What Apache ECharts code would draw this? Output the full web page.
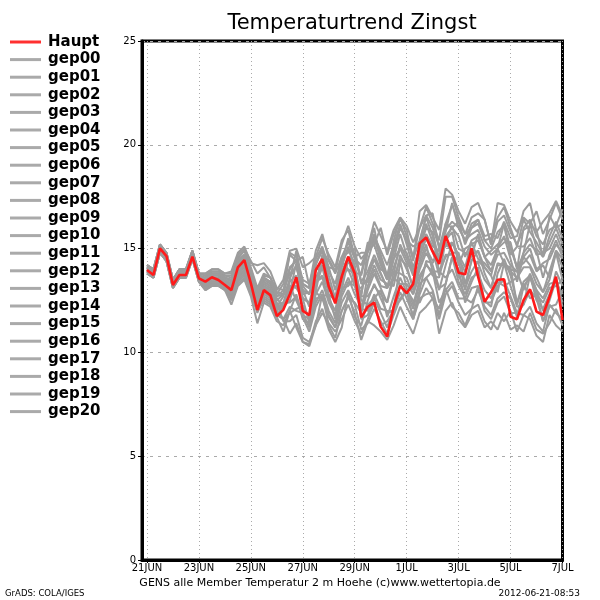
<!DOCTYPE html>
<html>
<head>
<meta charset="utf-8">
<script src="https://cdn.jsdelivr.net/npm/echarts@6/dist/echarts.min.js"></script>
<style>html,body{margin:0;padding:0;background:#fff;}#chart{width:600px;height:600px;}</style>
</head>
<body>
<div id="chart"></div>
<script>
// ---- data ----
const stepHours = 6;
const tickHours = [0, 48, 96, 144, 192, 240, 288, 336, 384];
const tickLabels = ['21JUN', '23JUN', '25JUN', '27JUN', '29JUN', '1JUL', '3JUL', '5JUL', '7JUL'];
const yTicks = [0, 5, 10, 15, 20, 25];

const haupt = [13.97,13.73,15.01,14.64,13.25,13.73,13.73,14.61,13.57,13.41,13.62,13.49,13.25,13.0,14.1,14.45,13.33,12.04,13.0,12.76,11.75,12.05,12.8,13.62,12.0,11.8,13.97,14.5,13.17,12.36,13.65,14.61,13.8,11.69,12.2,12.4,11.24,10.76,12.2,13.2,12.85,13.3,15.25,15.54,14.85,14.26,15.61,14.85,13.84,13.76,15.01,13.65,12.44,12.9,13.5,13.52,11.72,11.6,12.52,13.04,11.96,11.8,12.68,13.65,11.56];

const gep00 = [14.1,13.9,15.1,14.7,13.4,13.9,13.9,14.8,13.7,13.5,13.7,13.7,13.5,13.3,14.2,14.5,13.7,12.7,13.4,13.2,12.5,12.8,14.0,14.5,13.2,12.8,14.2,15.0,13.2,12.4,13.6,14.6,14.4,13.7,15.0,16.0,14.3,13.5,15.4,16.5,15.6,14.6,16.0,17.0,16.2,15.4,17.5,17.5,16.5,15.7,16.0,16.4,15.4,15.5,16.5,17.0,16.0,15.1,16.4,15.8,15.3,14.7,16.6,16.0,16.2];
const gep01 = [13.9,13.7,14.9,14.5,13.2,13.7,13.7,14.6,13.5,13.2,13.4,13.4,13.2,12.8,13.7,13.9,13.2,12.3,12.9,12.7,12.0,11.6,11.9,12.1,12.2,11.7,12.9,12.6,11.7,11.2,12.4,13.0,12.3,11.1,11.4,12.1,11.5,10.9,11.8,12.6,13.0,12.5,12.4,13.1,12.6,12.1,13.3,14.6,14.0,12.4,13.1,13.2,12.5,12.2,13.8,14.5,13.7,12.4,13.4,13.7,13.0,12.0,12.6,13.9,13.2];
const gep02 = [14.2,14.0,15.2,14.8,13.5,14.0,14.0,14.9,13.8,13.7,13.9,13.9,13.7,13.6,14.5,14.9,14.0,13.0,13.7,13.6,12.8,13.3,14.7,14.4,14.6,13.2,14.9,15.7,14.5,13.9,15.2,16.1,15.1,14.5,14.9,15.2,14.2,13.5,14.5,15.7,14.7,13.9,15.1,16.2,15.3,14.6,15.3,14.8,13.7,13.1,13.9,14.4,14.1,13.7,12.9,14.3,13.2,12.2,12.3,13.0,12.6,11.5,12.2,12.3,13.0];
const gep03 = [13.8,13.6,14.8,14.4,13.1,13.6,13.6,14.5,13.4,13.1,13.3,13.3,13.1,12.5,13.4,13.7,12.9,11.9,12.6,12.4,11.7,11.0,12.0,11.2,10.5,10.4,11.5,12.1,11.1,10.5,11.2,12.9,11.7,11.3,12.5,13.3,12.6,11.9,12.0,14.4,13.1,12.3,13.5,14.3,13.7,13.6,15.4,15.8,14.2,15.0,15.2,15.4,14.6,14.2,15.0,15.3,15.3,14.0,16.0,16.4,15.6,15.2,15.9,16.1,16.9];
const gep04 = [14.0,13.8,15.0,14.6,13.3,13.8,13.8,14.7,13.6,13.4,13.6,13.6,13.4,13.1,14.0,14.3,13.5,12.5,13.2,13.0,12.3,12.4,13.4,13.7,12.6,12.4,12.9,14.6,13.7,12.6,13.9,14.6,13.8,13.8,15.3,15.2,16.0,14.7,15.7,16.4,15.9,14.4,16.8,17.1,16.5,15.9,17.9,17.6,16.8,16.2,17.0,17.2,16.4,15.2,17.2,17.1,16.3,15.8,16.5,16.2,16.8,15.7,16.4,17.2,16.4];
const gep05 = [14.1,13.9,15.1,14.7,13.4,13.9,13.9,14.8,13.7,13.6,13.8,13.8,13.6,13.4,14.3,14.6,13.8,12.8,13.5,13.3,12.6,12.2,13.2,12.5,11.8,11.6,12.8,13.4,12.4,11.8,13.1,13.2,13.6,11.6,11.8,12.6,11.9,11.2,12.2,12.5,13.0,11.6,12.8,13.6,13.0,11.8,13.1,12.2,11.9,11.3,12.1,12.3,11.5,11.1,11.9,11.5,12.0,11.0,11.8,12.2,11.4,11.0,12.3,11.9,11.6];
const gep06 = [13.9,13.7,14.9,14.5,13.2,13.7,13.7,14.6,13.5,13.3,13.5,13.5,13.3,12.9,13.8,14.1,13.3,12.3,13.0,12.8,12.1,12.1,13.6,14.2,12.8,12.9,13.2,14.7,13.4,12.5,14.1,15.1,14.0,12.7,14.9,15.7,14.7,13.7,15.0,16.2,15.2,14.1,15.0,16.0,15.8,14.4,15.4,16.1,15.0,14.8,14.6,15.7,14.6,13.9,15.0,15.6,14.5,13.4,14.6,14.2,13.6,12.9,13.9,14.9,14.5];
const gep07 = [14.2,14.0,15.2,14.8,13.5,14.0,14.0,14.9,13.8,13.7,13.9,13.9,13.7,13.7,14.6,14.9,14.1,13.1,13.8,13.6,12.9,12.8,14.8,14.6,13.5,13.3,14.5,15.1,14.1,14.0,14.3,15.5,14.7,13.3,13.4,14.2,13.5,13.3,13.2,14.7,14.0,13.2,14.4,15.2,13.9,13.9,13.6,14.0,13.2,12.6,13.4,14.1,12.4,12.4,13.2,13.5,12.7,11.9,11.8,11.6,10.8,10.5,11.8,11.3,11.0];
const gep08 = [13.9,13.7,14.9,14.5,13.2,13.7,13.7,14.6,13.5,13.2,13.4,13.4,13.2,12.7,13.6,13.9,13.1,12.1,12.8,12.6,11.9,11.6,12.2,12.0,11.9,11.2,12.4,13.0,12.0,11.4,12.7,13.4,13.2,12.0,13.7,14.5,13.8,13.1,14.1,15.0,14.8,13.9,14.7,15.5,14.9,14.6,16.2,16.0,16.3,15.2,16.0,16.2,15.4,15.0,15.8,16.1,14.7,15.1,15.1,15.5,14.7,14.8,15.0,15.7,14.9];
const gep09 = [14.0,13.8,15.0,14.6,13.3,13.8,13.8,14.7,13.6,13.5,13.7,13.7,13.5,13.2,14.1,14.4,13.6,12.6,13.3,13.1,12.4,11.5,11.5,11.8,10.7,10.5,11.3,12.8,11.3,10.7,12.0,12.7,11.9,10.6,11.5,11.3,11.0,10.6,11.3,12.2,11.5,10.9,11.9,12.2,12.6,11.6,12.8,13.2,12.4,11.8,12.1,13.2,12.0,11.6,12.4,12.7,11.9,11.9,12.3,13.7,12.5,12.1,12.8,13.5,12.2];
const gep10 = [14.1,13.9,15.1,14.7,13.4,13.9,13.9,14.8,13.7,13.6,13.8,13.8,13.6,13.5,14.4,14.7,13.9,12.9,13.6,13.4,12.7,12.8,13.2,13.2,13.0,12.2,13.4,13.7,13.0,12.7,13.2,14.5,13.6,12.7,12.7,13.2,12.8,12.4,13.6,13.3,13.3,12.8,13.7,14.2,13.9,13.0,14.2,15.3,14.5,13.9,14.7,14.9,14.1,13.7,15.0,14.3,14.0,13.9,14.8,15.2,14.9,13.6,14.7,15.4,14.6];
const gep11 = [14.0,13.8,15.0,14.6,13.3,13.8,13.8,14.7,13.6,13.3,13.5,13.5,13.3,13.0,13.9,14.2,13.4,12.4,13.1,12.9,12.2,12.7,13.5,14.9,13.3,13.1,14.3,14.9,13.9,13.3,14.6,14.8,15.0,13.4,13.9,14.7,14.0,13.8,13.8,15.2,14.5,13.7,14.9,15.7,15.1,14.9,15.8,17.2,16.0,15.4,16.2,16.4,15.6,15.7,15.5,16.3,15.5,15.6,16.8,17.2,15.8,16.3,16.7,17.3,16.6];
const gep12 = [14.2,14.0,15.2,14.8,13.5,14.0,14.0,14.9,13.8,13.8,14.0,14.0,13.8,13.9,14.8,15.1,14.3,14.2,14.3,13.9,13.1,13.0,13.8,14.1,13.0,12.8,14.0,14.0,14.1,13.0,14.3,15.0,14.2,12.5,12.3,12.6,13.0,11.7,12.7,13.6,12.9,12.1,13.3,13.6,13.9,12.4,13.0,13.4,12.6,12.6,12.4,13.0,12.2,11.8,12.6,12.9,12.6,11.7,13.2,13.6,12.8,12.4,13.1,13.2,13.5];
const gep13 = [13.8,13.6,14.8,14.4,13.1,13.6,13.6,14.5,13.4,13.1,13.3,13.3,13.1,12.6,13.5,13.8,13.0,12.0,12.7,12.5,11.8,12.2,12.5,13.6,12.2,11.7,13.2,14.1,12.8,12.5,13.0,14.5,13.4,12.8,14.4,15.5,14.5,13.5,14.8,16.0,15.4,14.5,15.4,16.5,15.6,13.9,14.6,14.8,14.8,13.3,14.4,14.9,13.8,13.1,14.2,14.2,14.1,12.3,13.3,12.6,12.8,11.5,12.5,13.5,12.4];
const gep14 = [14.1,13.9,15.1,14.7,13.4,13.9,13.9,14.8,13.7,13.5,13.7,13.7,13.5,13.3,14.2,14.5,13.7,12.7,13.4,13.2,12.1,12.4,12.4,12.7,11.6,11.4,12.6,12.7,12.8,11.6,12.9,13.6,12.8,12.2,13.2,14.0,13.2,13.1,13.6,14.5,14.2,13.0,14.2,15.0,14.4,14.7,15.6,16.0,15.6,14.6,15.4,15.6,14.6,14.9,15.2,15.5,15.1,14.1,14.6,15.0,14.0,14.3,14.5,15.2,14.8];
const gep15 = [13.8,13.6,14.8,14.4,13.1,13.6,13.6,14.5,13.4,13.0,13.2,13.2,13.0,12.3,13.2,13.5,12.7,11.4,12.4,12.2,11.5,11.3,12.0,12.8,11.7,11.0,12.2,12.8,11.8,11.2,12.0,12.6,12.4,11.9,13.0,13.8,13.1,12.4,13.9,13.8,13.6,12.8,14.0,14.8,14.2,13.1,13.3,14.6,13.4,12.8,13.6,13.8,13.0,12.6,13.4,13.2,13.4,13.6,14.8,16.2,15.0,14.6,15.3,16.0,15.2];
const gep16 = [14.2,14.0,15.2,14.8,13.5,14.0,14.0,14.9,13.8,13.8,14.0,14.0,13.8,13.8,14.7,15.0,14.4,13.8,14.1,13.6,13.0,13.5,14.9,15.0,14.1,14.3,14.6,15.5,14.7,14.1,15.4,15.9,14.6,14.8,14.8,15.6,14.9,14.2,15.2,16.1,15.4,15.1,15.3,16.6,16.0,15.1,15.9,16.3,16.0,15.4,15.7,15.9,15.1,14.7,15.0,16.2,15.0,14.1,14.3,14.7,13.9,14.2,13.6,14.9,14.1];
const gep17 = [13.9,13.7,14.9,14.5,13.2,13.7,13.7,14.6,13.5,13.2,13.4,13.4,13.2,12.8,13.7,14.0,13.2,12.2,12.9,12.7,12.0,12.3,12.9,14.3,12.6,12.4,13.6,14.2,13.2,12.6,14.4,14.0,13.8,12.1,12.0,12.8,12.1,12.0,12.0,13.3,12.6,11.8,13.0,14.4,14.3,15.0,16.2,17.1,16.3,15.7,16.5,16.7,16.4,15.2,16.3,16.6,15.8,15.2,15.9,16.1,15.9,14.6,15.6,16.3,15.5];
const gep18 = [14.0,13.8,15.0,14.6,13.3,13.8,13.8,14.7,13.6,13.4,13.6,13.6,13.4,13.1,14.0,14.3,13.5,12.5,13.2,13.0,12.3,12.1,13.2,13.1,12.6,11.4,13.4,13.6,12.6,12.0,13.7,14.0,13.2,13.1,13.6,14.5,13.8,13.1,14.5,15.0,14.3,13.9,14.6,15.5,14.9,13.7,14.7,14.7,14.4,13.0,14.5,14.3,13.5,13.1,14.3,14.2,13.9,13.6,14.1,14.1,13.3,12.9,13.5,14.8,13.5];
const gep19 = [14.1,13.9,15.1,14.7,13.4,13.9,13.9,14.8,13.7,13.6,13.8,13.8,13.6,13.5,14.4,14.7,13.9,12.9,13.6,13.4,12.7,13.0,14.1,14.4,13.3,13.1,14.3,14.9,14.4,13.8,14.6,15.3,14.5,14.2,15.0,16.3,15.6,14.9,15.9,16.5,16.1,15.3,16.0,16.6,16.7,15.0,15.1,15.3,14.7,14.1,15.3,14.5,14.3,13.9,14.7,14.8,14.2,13.9,13.0,13.8,13.0,12.6,13.3,13.4,12.8];
const gep20 = [13.8,13.6,14.8,14.4,13.1,13.6,13.6,14.5,13.4,13.0,13.2,13.2,13.0,12.6,13.3,13.6,12.8,12.0,12.5,12.3,11.8,11.6,10.9,11.4,10.5,10.3,11.3,11.9,11.4,11.0,11.6,12.3,11.5,10.9,11.6,12.4,11.3,11.5,12.0,12.9,12.2,11.6,12.6,12.8,12.9,10.9,12.0,12.4,11.6,11.2,11.8,12.0,11.2,11.5,11.1,11.9,11.1,11.3,11.0,11.9,11.1,10.9,11.4,12.1,11.3];

const members = [
  ['gep00', gep00], ['gep01', gep01], ['gep02', gep02], ['gep03', gep03], ['gep04', gep04],
  ['gep05', gep05], ['gep06', gep06], ['gep07', gep07], ['gep08', gep08], ['gep09', gep09],
  ['gep10', gep10], ['gep11', gep11], ['gep12', gep12], ['gep13', gep13], ['gep14', gep14],
  ['gep15', gep15], ['gep16', gep16], ['gep17', gep17], ['gep18', gep18], ['gep19', gep19],
  ['gep20', gep20]
];

const titleText = 'Temperaturtrend Zingst';
const footerText = 'GENS alle Member Temperatur 2 m Hoehe (c)www.wettertopia.de';
const leftFooter = 'GrADS: COLA/IGES';
const rightFooter = '2012-06-21-08:53';

// ---- build ----
const toPairs = arr => arr.map((v, i) => [i * stepHours, v]);
const FONT = 'DejaVu Sans';
const RED = '#ff1a1a';
const GRAY = '#9c9c9c';

const series = members.map(([name, vals]) => ({
  name: name,
  type: 'line',
  data: toPairs(vals),
  symbol: 'none',
  lineStyle: { color: GRAY, width: 2 },
  itemStyle: { color: '#aaaaaa' },
  z: 2,
  silent: true
}));
series.push({
  name: 'Haupt',
  type: 'line',
  data: toPairs(haupt),
  symbol: 'none',
  lineStyle: { color: RED, width: 2.6 },
  itemStyle: { color: '#ff3030' },
  z: 5,
  silent: true
});

const chart = echarts.init(document.getElementById('chart'), null, { renderer: 'canvas' });
chart.setOption({
  animation: false,
  backgroundColor: '#ffffff',
  grid: {
    left: 142, right: 37.5, top: 41, bottom: 40,
    show: true, borderColor: '#000', borderWidth: 3, containLabel: false
  },
  legend: {
    data: ['Haupt'].concat(members.map(m => m[0])),
    orient: 'vertical',
    left: 10,
    top: 34,
    padding: 0,
    icon: 'rect',
    itemWidth: 31,
    itemHeight: 3,
    itemGap: 1.6,
    selectedMode: false,
    textStyle: {
      fontFamily: FONT, fontSize: 15, fontWeight: 'bold', color: '#000',
      lineHeight: 16, padding: [0, 0, 0, 2]
    }
  },
  xAxis: {
    type: 'value',
    min: -4.6,
    max: 384,
    axisLine: { show: true, onZero: false, lineStyle: { color: '#000', width: 3 } },
    axisTick: { show: true, customValues: tickHours, length: 3, lineStyle: { color: '#000' } },
    axisLabel: {
      customValues: tickHours,
      formatter: v => tickLabels[tickHours.indexOf(v)] || '',
      fontFamily: FONT, fontSize: 10, color: '#000', margin: 3
    },
    splitLine: { show: true, lineStyle: { color: '#aaaaaa', width: 1, type: [1, 3] } }
  },
  yAxis: {
    type: 'value',
    min: yTicks[0],
    max: yTicks[yTicks.length - 1],
    interval: 5,
    axisLine: { show: true, onZero: false, lineStyle: { color: '#000', width: 3 } },
    axisTick: { show: true, length: 4, lineStyle: { color: '#000' } },
    axisLabel: { fontFamily: FONT, fontSize: 10, color: '#000', margin: 6, verticalAlign: 'middle' },
    splitLine: { show: true, lineStyle: { color: '#aaaaaa', width: 1, type: [3, 5] } }
  },
  graphic: [
    { type: 'text', x: 352, y: 24, style: { text: titleText, fontFamily: FONT, fontSize: 21, fill: '#000', align: 'center', verticalAlign: 'middle' } },
    { type: 'text', x: 320, y: 583, style: { text: footerText, fontFamily: FONT, fontSize: 11, fill: '#000', align: 'center', verticalAlign: 'middle' } },
    { type: 'text', x: 5, y: 594, style: { text: leftFooter, fontFamily: FONT, fontSize: 8.5, fill: '#000', align: 'left', verticalAlign: 'middle' } },
    { type: 'text', x: 580, y: 594, style: { text: rightFooter, fontFamily: FONT, fontSize: 9, fill: '#000', align: 'right', verticalAlign: 'middle' } }
  ],
  series: series
});
</script>
</body>
</html>
